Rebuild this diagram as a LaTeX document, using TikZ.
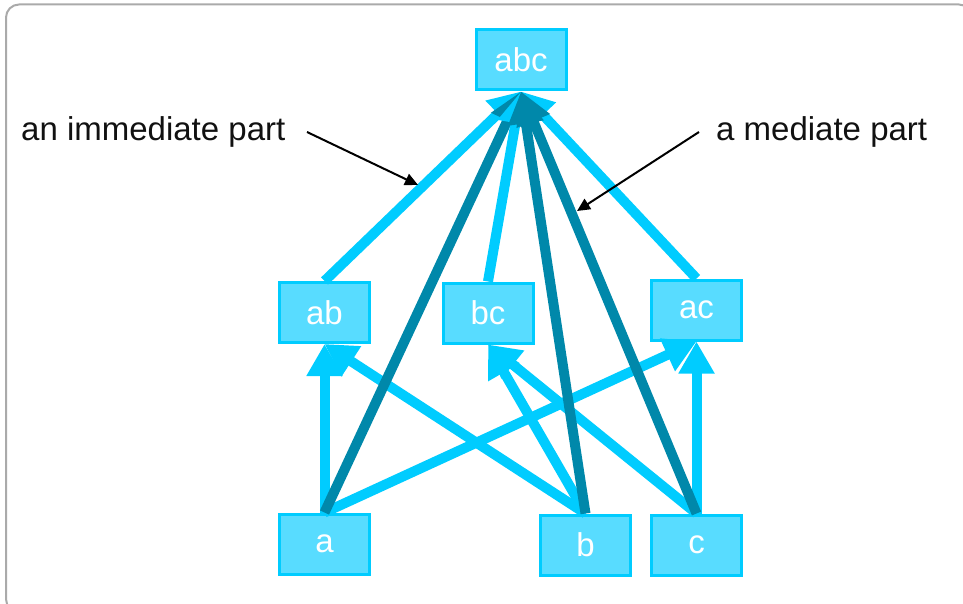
\documentclass[tikz,border=0pt]{standalone}
\usepackage{fontspec}
\setmainfont{Liberation Sans}
\usetikzlibrary{arrows.meta}
\definecolor{edgelight}{RGB}{0,204,255}
\definecolor{edgedark}{RGB}{0,136,170}
\definecolor{boxfill}{RGB}{88,220,255}
\definecolor{framegray}{RGB}{170,170,170}
\definecolor{labeltext}{RGB}{17,17,17}
\tikzset{
  part/.style={draw=edgelight, fill=boxfill, line width=3pt, minimum width=90pt, minimum height=60pt,
    inner sep=0pt, text=white, font=\fontsize{33}{40}\selectfont},
  lightedge/.style={draw=edgelight, line width=10pt, -{Triangle[length=32pt,width=34pt]}},
  darkedge/.style={draw=edgedark, line width=10pt, -{Triangle[length=32pt,width=34pt]}},
  note/.style={text=labeltext, inner sep=0pt, font=\fontsize{33}{40}\selectfont},
  notearrow/.style={draw=black, line width=2pt, -{Triangle[length=13pt,width=12pt]}}
}
\begin{document}
\begin{tikzpicture}[x=1pt, y=-1pt]
\useasboundingbox (0,0) rectangle (963,604);
\draw[framegray, line width=2pt, rounded corners=13pt] (6,4.5) rectangle (972,612);

\node[part] (abc) at (521,60) {abc};
\node[part] (ab) at (324.5,312.5) {ab};
\node[part] (bc) at (488,313) {bc};
\node[part] (ac) at (696.5,310) {ac};
\node[part] (a) at (324.5,544) {a};
\node[part] (b) at (585.5,545) {b};
\node[part] (c) at (696.5,545) {c};

% immediate parts
\draw[lightedge] (a.north) -- (ab.south);
\draw[lightedge] (b.north) -- (ab.south);
\draw[lightedge] (b.north) -- (bc.south);
\draw[lightedge] (c.north) -- (bc.south);
\draw[lightedge] (a.north) -- (ac.south);
\draw[lightedge] (c.north) -- (ac.south);
\draw[lightedge] (ab.north) -- (abc.south);
\draw[lightedge] (ac.north) -- (abc.south);
% mediate parts
\draw[darkedge] (a.north) -- (abc.south);
\draw[lightedge] (bc.north) -- (abc.south);
\draw[darkedge] (b.north) -- (abc.south);
\draw[darkedge] (c.north) -- (abc.south);

% annotations
\node[note, anchor=base west] (imm) at (21,141) {an immediate part};
\node[note, anchor=base west] (med) at (716,141) {a mediate part};
\coordinate (p1s) at (307,132);
\coordinate (p1e) at (418,185);
\coordinate (p2s) at (699,132);
\coordinate (p2e) at (577,211);
\draw[notearrow] (p1s) -- (p1e);
\draw[notearrow] (p2s) -- (p2e);
\end{tikzpicture}
\end{document}
